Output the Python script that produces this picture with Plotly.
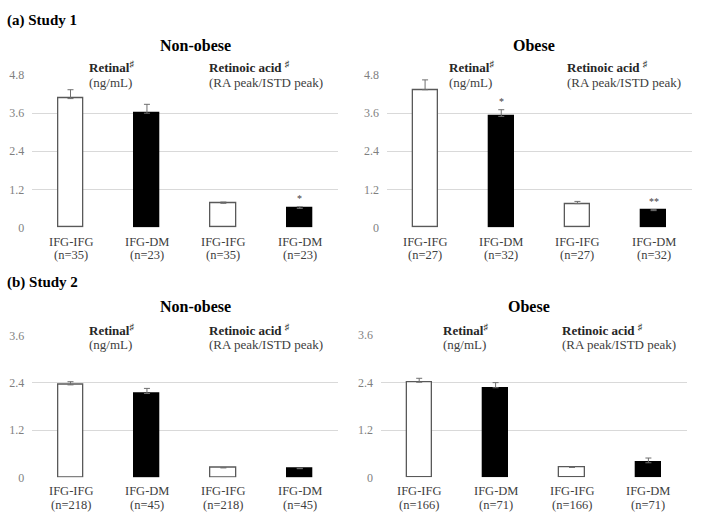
import plotly.graph_objects as go

W, H = 702, 523

groups = ["IFG-IFG", "IFG-DM", "IFG-IFG", "IFG-DM"]
bar_colors = ["white", "black", "white", "black"]
line_colors = ["#595959", "black", "#595959", "black"]

# Study 1
s1_nonobese_n = [35, 23, 35, 23]
s1_nonobese_mean = [4.06, 3.60, 0.76, 0.60]
s1_nonobese_se = [0.28, 0.28, 0.04, 0.05]
s1_nonobese_sig = ["", "", "", "*"]

s1_obese_n = [27, 32, 27, 32]
s1_obese_mean = [4.34, 3.50, 0.75, 0.53]
s1_obese_se = [0.31, 0.21, 0.07, 0.03]
s1_obese_sig = ["", "*", "", "**"]

# Study 2
s2_nonobese_n = [218, 45, 218, 45]
s2_nonobese_mean = [2.35, 2.13, 0.24, 0.22]
s2_nonobese_se = [0.08, 0.13, 0.01, 0.01]
s2_nonobese_sig = ["", "", "", ""]

s2_obese_n = [166, 71, 166, 71]
s2_obese_mean = [2.41, 2.27, 0.25, 0.37]
s2_obese_se = [0.10, 0.13, 0.01, 0.12]
s2_obese_sig = ["", "", "", ""]

s1_ticks = [0, 1.2, 2.4, 3.6, 4.8]
s1_ticktext = ["0", "1.2", "2.4", "3.6", "4.8"]
s2_ticks = [0, 1.2, 2.4, 3.6]
s2_ticktext = ["0", "1.2", "2.4", "3.6"]

retinal_label = "Retinal"
retinal_unit = "(ng/mL)"
ra_label = "Retinoic acid "
ra_unit = "(RA peak/ISTD peak)"
mark = "♯"

FONT = "Liberation Serif, Times New Roman, serif"


def fx(px):
    return px / W


def fy(py):
    return 1 - py / H


panels = [
    (s1_nonobese_mean, s1_nonobese_se, s1_nonobese_n, s1_nonobese_sig, (32.3, 338), (70, 226.5), s1_ticks, s1_ticktext, 4.8),
    (s1_obese_mean, s1_obese_se, s1_obese_n, s1_obese_sig, (387, 691.7), (70, 226.5), s1_ticks, s1_ticktext, 4.8),
    (s2_nonobese_mean, s2_nonobese_se, s2_nonobese_n, s2_nonobese_sig, (32.3, 338), (337.7, 483.3), s2_ticks, s2_ticktext, 3.6),
    (s2_obese_mean, s2_obese_se, s2_obese_n, s2_obese_sig, (381, 686.6), (337.3, 483.3), s2_ticks, s2_ticktext, 3.6),
]

fig = go.Figure()
annotations = []
xs = list(range(len(groups)))

for i, (mean, se, n, sig, xd, yd, ticks, ttext, ymax) in enumerate(panels):
    k = "" if i == 0 else str(i + 1)
    fig.add_trace(go.Bar(
        x=xs, y=mean,
        xaxis="x" + k, yaxis="y" + k,
        width=0.33,
        marker=dict(color=bar_colors, line=dict(color=line_colors, width=1.3)),
        error_y=dict(type="data", symmetric=False, array=se, arrayminus=[0] * len(se),
                     color="#6f6f6f", thickness=1, width=3),
        showlegend=False, hoverinfo="skip",
    ))
    fig.update_layout({
        "xaxis" + k: dict(domain=[fx(xd[0]), fx(xd[1])], range=[-0.5, 3.5],
                          showticklabels=False,
                          showgrid=False, zeroline=False, showline=False, ticks="",
                          anchor="y" + k, fixedrange=True),
        "yaxis" + k: dict(domain=[fy(yd[1]), fy(yd[0])], range=[0, ymax],
                          tickmode="array", tickvals=ticks, ticktext=ttext,
                          showgrid=True, gridcolor="#d9d9d9", gridwidth=1,
                          zeroline=False, showline=False, ticks="",
                          ticklabelstandoff=7,
                          tickfont=dict(family=FONT, size=12, color="#7f7f7f"),
                          anchor="x" + k, fixedrange=True),
    })
    for j in xs:
        for line, dy in ((groups[j], 14.5), (f"(n={n[j]})", 28)):
            annotations.append(dict(x=xs[j], xref="x" + k, y=fy(yd[1] + dy), yref="paper",
                                    text=line, showarrow=False, xanchor="center", yanchor="middle",
                                    font=dict(family=FONT, size=12.5, color="#404040")))
    for j, s in enumerate(sig):
        if s:
            annotations.append(dict(x=xs[j], y=mean[j] + se[j], xref="x" + k, yref="y" + k,
                                    text=s, showarrow=False, yanchor="bottom", yshift=1,
                                    font=dict(family=FONT, size=10, color="#404040")))


def txt(px, py, text, size, bold=False, xanchor="left", color="black"):
    t = f"<b>{text}</b>" if bold else text
    annotations.append(dict(x=fx(px), y=fy(py), xref="paper", yref="paper", text=t,
                            showarrow=False, xanchor=xanchor, yanchor="middle",
                            font=dict(family=FONT, size=size, color=color)))


txt(5, 14, "(a) Study 1", 15, bold=True)
txt(5, 283, "(b) Study 2", 15, bold=True)
txt(195, 40, "Non-obese", 16, bold=True, xanchor="center")
txt(534, 40, "Obese", 16, bold=True, xanchor="center")
txt(195, 308, "Non-obese", 16, bold=True, xanchor="center")
txt(529, 308, "Obese", 16, bold=True, xanchor="center")

label_pos = [
    (87, 207, 62, 78),
    (447, 565, 62, 78),
    (87, 207, 331.7, 346.7),
    (441, 560, 331.7, 346.7),
]
for rx, ax, y1, y2 in label_pos:
    txt(rx, y1, f"<b>{retinal_label}</b><sup>{mark}</sup>", 13, color="#262626")
    txt(rx, y2, retinal_unit, 13, color="#404040")
    txt(ax, y1, f"<b>{ra_label}</b><sup>{mark}</sup>", 13, color="#262626")
    txt(ax, y2, ra_unit, 13, color="#404040")

fig.update_layout(
    width=W, height=H,
    margin=dict(l=0, r=0, t=0, b=0),
    paper_bgcolor="white", plot_bgcolor="white",
    annotations=annotations,
    bargap=0,
)

fig.write_html("out.html", config={"displayModeBar": False},
               post_script="document.body.style.margin='0';")
